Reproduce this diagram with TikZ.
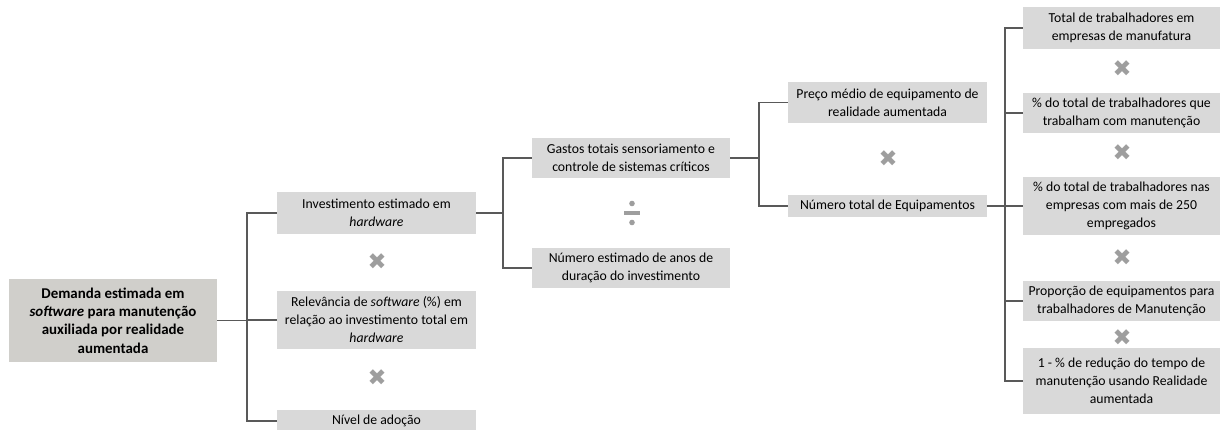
\documentclass[tikz,border=0pt]{standalone}
\usepackage{fontspec}
\setmainfont{Carlito}
\newfontfamily\symfont{DejaVu Sans}
\usepackage{tikz}
\usetikzlibrary{positioning}

\definecolor{boxgray}{HTML}{D9D9D9}
\definecolor{rootgray}{HTML}{D0CFCB}
\definecolor{linegray}{HTML}{595959}
\definecolor{opgray}{HTML}{9E9E9E}

\begin{document}
\begin{tikzpicture}
            [x=0.75pt, y=-0.75pt,
            bx/.style={rectangle, fill=boxgray, inner sep=0pt, align=center, font=\fontsize{10.3}{13.5}\selectfont, minimum width=149.25pt},
            rt/.style={bx, fill=rootgray, font=\bfseries\fontsize{11.2}{13.8}\selectfont, minimum width=156pt, minimum height=62.25pt},
            ln/.style={draw=linegray, line width=0.9pt},
            times/.style={text=opgray, font=\symfont\fontsize{17}{17}\selectfont, inner sep=0pt},
            dot/.style={circle, fill=opgray, inner sep=0pt, minimum size=4.2pt}]
            \useasboundingbox (0,0) rectangle (1222,429);
            % trunks
            \coordinate (t1) at (247,0);
            \coordinate (t2) at (503,0);
            \coordinate (t3) at (759,0);
            \coordinate (t4) at (1005,0);
            % root
            \node[rt] (root) at (113,320.5) {Demanda estimada em\\\textit{software} para manutenção\\auxiliada por realidade\\aumentada};
            % second column
            \node[bx, minimum height=31.5pt] (inv) at (376.5,213) {Investimento estimado em\\\textit{hardware}};
            \node[times] (x1) at (377,262) {✖};
            \node[bx, minimum height=43.5pt] (rel) at (376.5,320) {Relevância de \textit{software} (\%) em\\relação ao investimento total em\\\textit{hardware}};
            \node[times] (x2) at (377,378) {✖};
            \node[bx, minimum height=16.5pt] (niv) at (376.5,421) {Nível de adoção};
            % third column
            \node[bx, minimum width=148.5pt, minimum height=30pt] (gas) at (631,158) {Gastos totais sensoriamento e\\controle de sistemas críticos};
            \node[rectangle, fill=opgray, inner sep=0pt, minimum width=12.5pt, minimum height=3.4pt] (d1) at (632,213) {};
            \node[dot] (d1a) at (632,203.5) {};
            \node[dot] (d1b) at (632,222.5) {};
            \node[bx, minimum width=148.5pt, minimum height=30pt] (anos) at (631,268) {Número estimado de anos de\\duração do investimento};
            % fourth column
            \node[bx, minimum height=30.75pt] (preco) at (887.5,102.5) {Preço médio de equipamento de\\realidade aumentada};
            \node[times] (x3) at (888,159) {✖};
            \node[bx, minimum height=16.5pt] (neq) at (887.5,206) {Número total de Equipamentos};
            % fifth column
            \node[bx, minimum width=147.75pt, minimum height=31.5pt] (tot) at (1121.5,28) {Total de trabalhadores em\\empresas de manufatura};
            \node[times] (x4) at (1122,69) {✖};
            \node[bx, minimum width=147.75pt, minimum height=30pt] (man) at (1121.5,113) {\% do total de trabalhadores que\\trabalham com manutenção};
            \node[times] (x5) at (1122,153) {✖};
            \node[bx, minimum width=147.75pt, minimum height=43.5pt] (emp) at (1121.5,206) {\% do total de trabalhadores nas\\empresas com mais de 250\\empregados};
            \node[times] (x6) at (1122,258) {✖};
            \node[bx, minimum width=147.75pt, minimum height=30pt] (prop) at (1121.5,301) {Proporção de equipamentos para\\trabalhadores de Manutenção};
            \node[times] (x7) at (1122,338) {✖};
            \node[bx, minimum width=147.75pt, minimum height=49.5pt] (red) at (1121.5,381) {1 - \% de redução do tempo de\\manutenção usando Realidade\\aumentada};
            % connectors
            \draw[ln] (root.east) -- (root.east -| t1);
            \draw[ln] (inv.west) -| (t1 |- niv.west) -- (niv.west);
            \draw[ln] (rel.west) -- (rel.west -| t1);
            \draw[ln] (inv.east) -- (inv.east -| t2);
            \draw[ln] (gas.west) -| (t2 |- anos.west) -- (anos.west);
            \draw[ln] (gas.east) -- (gas.east -| t3);
            \draw[ln] (preco.west) -| (t3 |- neq.west) -- (neq.west);
            \draw[ln] (neq.east) -- (neq.east -| t4);
            \draw[ln] (tot.west) -| (t4 |- red.west) -- (red.west);
            \draw[ln] (man.west) -- (man.west -| t4);
            \draw[ln] (emp.west) -- (emp.west -| t4);
            \draw[ln] (prop.west) -- (prop.west -| t4);
            \end{tikzpicture}
\end{document}
